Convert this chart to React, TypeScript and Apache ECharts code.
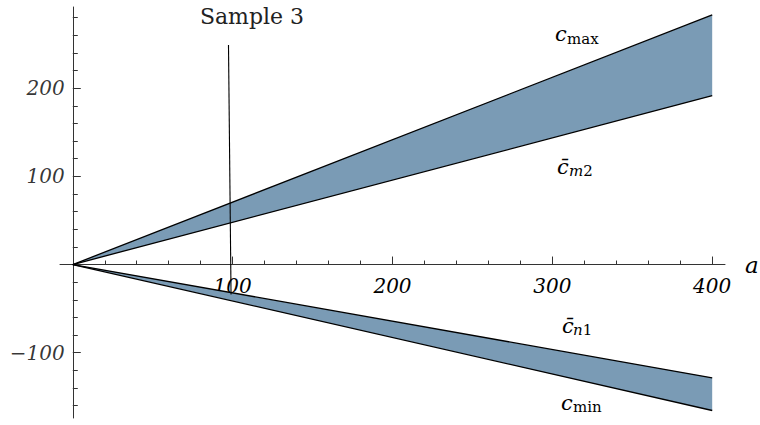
import React, { useEffect, useRef } from "react";
import * as echarts from "echarts";

// ---- data ----
const aValues = [0, 400];
const cMax = [0, 283];
const cM2 = [0, 191.5];
const cN1 = [0, -128.5];
const cMin = [0, -165.5];
const sampleA = [97.4, 99];
const sampleC = [249, -34];

const xMajor = [100, 200, 300, 400];
const xMinor = [20, 40, 60, 80, 120, 140, 160, 180, 220, 240, 260, 280, 320, 340, 360, 380];
const yMajor = [-100, 100, 200];
const yMinor = [-160, -140, -120, -80, -60, -40, -20, 20, 40, 60, 80, 120, 140, 160, 180, 220, 240, 260, 280];

const X_MIN = -8;
const X_MAX = 408;
const Y_MIN = -174;
const Y_MAX = 292;

const FILL = "#7a9bb5";
const FONT = "DejaVu Serif";
const AXIS_COLOR = "#333";
const GRID = { left: 60, right: 35, top: 7, bottom: 7 };
const H = 425;
const CENTRAL = 0.346;

function bandRender(params: any, api: any) {
  if (params.dataIndexInside !== 0) return null;
  const n = params.dataInsideLength;
  const top: number[][] = [];
  const bot: number[][] = [];
  for (let i = 0; i < n; i++) {
    top.push(api.coord([api.value(0, i), api.value(2, i)]));
    bot.push(api.coord([api.value(0, i), api.value(1, i)]));
  }
  return {
    type: "polygon",
    shape: { points: top.concat(bot.reverse()) },
    style: { fill: FILL, stroke: "none" },
  };
}

const lineSeries = (name: string, ys: number[]) => ({
  name,
  type: "line",
  data: aValues.map((a, i) => [a, ys[i]]),
  symbol: "none",
  lineStyle: { color: "#000", width: 1.3 },
  xAxisIndex: 0,
  yAxisIndex: 0,
  silent: true,
});

function label(x: number, subX: number, cBase: number, c: string, sub: string, subItalicPart: string) {
  const cs = 21;
  const ss = 15;
  return [
    {
      type: "text",
      x,
      y: cBase - CENTRAL * cs,
      style: {
        text: c,
        fontFamily: FONT,
        fontStyle: "italic",
        fontSize: cs,
        fill: "#000",
        textAlign: "left",
        textVerticalAlign: "middle",
      },
    },
    {
      type: "text",
      x: subX,
      y: cBase + 2 - CENTRAL * ss,
      style: {
        text: subItalicPart ? `{i|${subItalicPart}}{r|${sub}}` : `{r|${sub}}`,
        fontFamily: FONT,
        fontSize: ss,
        fill: "#000",
        textAlign: "left",
        textVerticalAlign: "middle",
        rich: {
          i: { fontFamily: FONT, fontStyle: "italic", fontSize: ss, fill: "#000" },
          r: { fontFamily: FONT, fontSize: ss, fill: "#000" },
        },
      },
    },
  ];
}

export default function App() {
  const ref = useRef<HTMLDivElement>(null);
  useEffect(() => {
    if (!ref.current) return;
    const chart = echarts.init(ref.current, undefined, { renderer: "svg" });
    const labelStyle = {
      fontFamily: FONT,
      fontStyle: "italic" as const,
      fontSize: 20,
      color: "#000",
    };
    const gridH = H - GRID.top - GRID.bottom;
    const xZeroOffset = -((0 - Y_MIN) / (Y_MAX - Y_MIN)) * gridH;
    chart.setOption({
      animation: false,
      textStyle: { fontFamily: FONT },
      grid: { ...GRID, containLabel: false, outerBoundsMode: "none" },
      xAxis: [
        {
          type: "value",
          min: X_MIN,
          max: X_MAX,
          axisLine: { show: true, onZero: true, lineStyle: { color: AXIS_COLOR, width: 1 } },
          axisTick: { show: true, inside: true, length: 8, customValues: xMajor, lineStyle: { color: AXIS_COLOR } },
          axisLabel: { show: false },
          splitLine: { show: false },
          name: "a",
          nameLocation: "end",
          nameGap: 20,
          nameTextStyle: { fontFamily: FONT, fontStyle: "italic", fontSize: 23, color: "#000", padding: [5, 0, 0, 0] },
        },
        {
          type: "value",
          min: X_MIN,
          max: X_MAX,
          position: "bottom",
          axisLine: { show: false, onZero: true },
          axisTick: { show: true, inside: true, length: 4, customValues: xMinor, lineStyle: { color: AXIS_COLOR } },
          axisLabel: { show: false },
          splitLine: { show: false },
        },
        {
          type: "value",
          min: X_MIN,
          max: X_MAX,
          position: "bottom",
          offset: xZeroOffset,
          axisLine: { show: false, onZero: false },
          axisTick: { show: false },
          axisLabel: { show: true, customValues: xMajor, margin: 11, ...labelStyle },
          splitLine: { show: false },
        },
      ],
      yAxis: [
        {
          type: "value",
          min: Y_MIN,
          max: Y_MAX,
          axisLine: { show: true, onZero: true, lineStyle: { color: AXIS_COLOR, width: 1 } },
          axisTick: { show: true, inside: true, length: 8, customValues: yMajor, lineStyle: { color: AXIS_COLOR } },
          axisLabel: { show: false },
          splitLine: { show: false },
        },
        {
          type: "value",
          min: Y_MIN,
          max: Y_MAX,
          position: "left",
          axisLine: { show: false, onZero: true },
          axisTick: { show: true, inside: true, length: 5, customValues: yMinor, lineStyle: { color: AXIS_COLOR } },
          axisLabel: { show: false },
          splitLine: { show: false },
        },
      ],
      series: [
        {
          type: "custom",
          name: "upper band",
          xAxisIndex: 0,
          yAxisIndex: 0,
          data: aValues.map((a, i) => [a, cM2[i], cMax[i]]),
          encode: { x: 0, y: [1, 2] },
          renderItem: bandRender,
          silent: true,
        },
        {
          type: "custom",
          name: "lower band",
          xAxisIndex: 0,
          yAxisIndex: 0,
          data: aValues.map((a, i) => [a, cMin[i], cN1[i]]),
          encode: { x: 0, y: [1, 2] },
          renderItem: bandRender,
          silent: true,
        },
        lineSeries("c_max", cMax),
        lineSeries("c_m2", cM2),
        lineSeries("c_n1", cN1),
        lineSeries("c_min", cMin),
        {
          name: "Sample 3",
          type: "line",
          data: sampleA.map((a, i) => [a, sampleC[i]]),
          symbol: "none",
          lineStyle: { color: "#000", width: 1.1 },
          xAxisIndex: 0,
          yAxisIndex: 0,
          silent: true,
          z: 5,
        },
        {
          name: "y tick labels",
          type: "scatter",
          xAxisIndex: 0,
          yAxisIndex: 0,
          data: yMajor.map((v) => [0, v]),
          symbolSize: 0,
          silent: true,
          label: {
            show: true,
            position: "left",
            distance: 8,
            formatter: (p: any) => String(p.value[1]).replace("-", "\u2212"),
            ...labelStyle,
          },
        },
      ],
      graphic: [
        {
          type: "text",
          x: 252,
          y: 16,
          style: {
            text: "Sample 3",
            fontFamily: FONT,
            fontSize: 22,
            fill: "#222",
            textAlign: "center",
            textVerticalAlign: "middle",
          },
        },
        ...label(555, 567, 41.7, "c", "max", ""),
        ...label(557, 569, 174, "c\u0304", "2", "m"),
        ...label(562, 573, 333, "c\u0304", "1", "n"),
        ...label(561, 573, 410, "c", "min", ""),
      ],
    });
    return () => chart.dispose();
  }, []);
  return (
    <div
      ref={ref}
      style={{ position: "absolute", left: 0, top: 0, width: 760, height: 425 }}
    />
  );
}
